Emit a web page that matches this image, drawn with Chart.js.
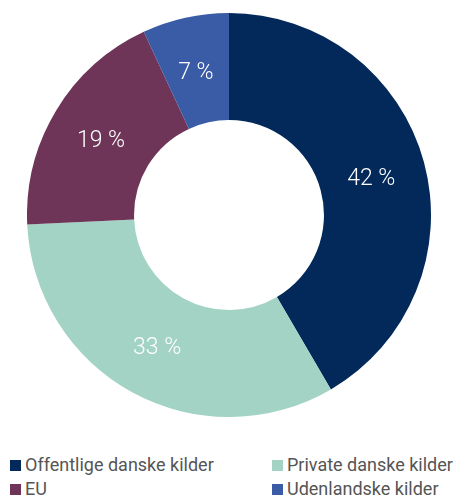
<!DOCTYPE html>
<html lang="da">
<head>
<meta charset="UTF-8">
<title>Finansiering</title>
<script src="https://cdn.jsdelivr.net/npm/chart.js"></script>
<style>
    body { margin: 0; width: 456px; height: 498px; background: #fff; font-family: Roboto, sans-serif; position: relative; overflow: hidden; }
    #wrap { position: absolute; left: 27px; top: 13px; width: 404px; height: 404px; }
    #legend { position: absolute; left: 10px; top: 454px; width: 446px; display: grid; grid-template-columns: 262px 184px; row-gap: 2px; }
    .item { display: flex; align-items: center; font-size: 18px; color: #555; line-height: 22px; white-space: nowrap; }
    .box { width: 11px; height: 11px; margin-right: 4px; flex: none; }
</style>
</head>
<body>
<div id="wrap"><canvas id="pie"></canvas></div>
<div id="legend"></div>
<script>
    const labels = ["Offentlige danske kilder", "Private danske kilder", "EU", "Udenlandske kilder"];
    const values = [42, 33, 19, 7];
    const colors = ["#03295a", "#a3d3c4", "#6f3558", "#3a5ba6"];

    // percentage labels drawn at the middle of each slice
    const sliceLabels = {
        id: 'sliceLabels',
        afterDatasetsDraw(chart) {
            const ctx = chart.ctx;
            ctx.save();
            ctx.fillStyle = '#fff';
            ctx.font = '300 23px Roboto';
            ctx.textAlign = 'center';
            ctx.textBaseline = 'middle';
            chart.getDatasetMeta(0).data.forEach((arc, i) => {
                const p = arc.tooltipPosition();
                ctx.fillText(values[i] + ' %', p.x - 1, p.y + 3);
            });
            ctx.restore();
        }
    };

    new Chart(document.getElementById('pie'), {
        type: 'doughnut',
        data: { labels, datasets: [{ data: values, backgroundColor: colors, borderWidth: 0 }] },
        options: {
            responsive: true,
            maintainAspectRatio: false,
            animation: false,
            cutout: '47%',
            plugins: { legend: { display: false }, tooltip: { enabled: false } }
        },
        plugins: [sliceLabels]
    });

    const legend = document.getElementById('legend');
    labels.forEach((l, i) => {
        const d = document.createElement('div');
        d.className = 'item';
        d.innerHTML = '<span class="box" style="background:' + colors[i] + '"></span>' + l;
        legend.appendChild(d);
    });
</script>
</body>
</html>
